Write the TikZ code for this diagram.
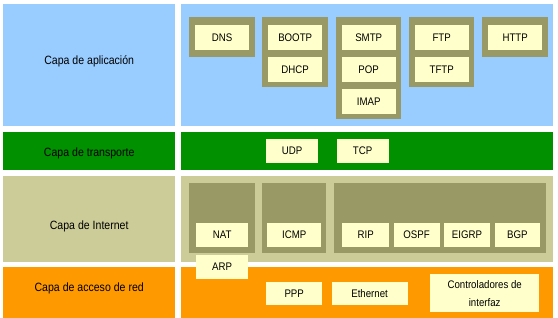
\documentclass[tikz,border=0pt]{standalone}
\usepackage{fontspec}
\setmainfont[FakeStretch=0.88]{Liberation Sans}
\usepackage{tikz}
\usetikzlibrary{positioning}
\definecolor{SkyBlue}{HTML}{99CCFF}
\definecolor{LayerGreen}{HTML}{009000}
\definecolor{Sand}{HTML}{CCCC99}
\definecolor{Olive}{HTML}{999966}
\definecolor{LayerOrange}{HTML}{FF9900}
\definecolor{Cream}{HTML}{FFFFCC}

\begin{document}
\begin{tikzpicture}[
  x=1pt,y=-1pt,
  band/.style={inner sep=0pt,anchor=north west},
  layer/.style={inner sep=0pt,font=\fontsize{12}{14}\selectfont},
  frame/.style={fill=Olive,inner sep=0pt,anchor=north west},
  proto/.style={fill=Cream,inner sep=0pt,minimum width=54pt,minimum height=25pt,align=center,font=\fontsize{11}{12}\selectfont}
]
\useasboundingbox[fill=white] (0,0) rectangle (558,318);

% layer bands, left for the name and right for the protocols
\node[band,fill=SkyBlue,minimum width=172pt,minimum height=122pt] (appL) at (3,4) {};
\node[band,fill=SkyBlue,minimum width=372pt,minimum height=122pt] (appR) at (181,4) {};
\node[band,fill=LayerGreen,minimum width=172pt,minimum height=38pt] (trL) at (3,132) {};
\node[band,fill=LayerGreen,minimum width=372pt,minimum height=38pt] (trR) at (181,132) {};
\node[band,fill=Sand,minimum width=172pt,minimum height=86pt] (inL) at (3,176) {};
\node[band,fill=Sand,minimum width=372pt,minimum height=86pt] (inR) at (181,176) {};
\node[band,fill=LayerOrange,minimum width=172pt,minimum height=51pt] (acL) at (3,267) {};
\node[band,fill=LayerOrange,minimum width=372pt,minimum height=51pt] (acR) at (181,267) {};

\node[layer] (appT) at ([yshift=4pt]appL.center) {Capa de aplicación};
\node[layer] (trT) at ([yshift=-2pt]trL.center) {Capa de transporte};
\node[layer] (inT) at ([yshift=-7pt]inL.center) {Capa de Internet};
\node[layer] (acT) at ([yshift=4pt]acL.center) {Capa de acceso de red};

% application layer
\node[frame,minimum width=66pt,minimum height=40pt] (dnsF) at (189,17) {};
\node[frame,minimum width=66pt,minimum height=70pt] (bootpF) at (262,17) {};
\node[frame,minimum width=65pt,minimum height=102pt] (smtpF) at (336,17) {};
\node[frame,minimum width=65pt,minimum height=70pt] (ftpF) at (409,17) {};
\node[frame,minimum width=66pt,minimum height=40pt] (httpF) at (482,17) {};
\node[proto,below=8pt of dnsF.north] (dns) {DNS};
\node[proto,below=8pt of bootpF.north] (bootp) {BOOTP};
\node[proto,below=6.5pt of bootp] (dhcp) {DHCP};
\node[proto,below=8pt of smtpF.north] (smtp) {SMTP};
\node[proto,below=6.5pt of smtp] (pop) {POP};
\node[proto,below=6.5pt of pop] (imap) {IMAP};
\node[proto,below=8pt of ftpF.north] (ftp) {FTP};
\node[proto,below=6.5pt of ftp] (tftp) {TFTP};
\node[proto,below=8pt of httpF.north] (http) {HTTP};

% transport layer
\node[proto,anchor=north west,minimum width=52pt,minimum height=24pt] (udp) at (266,139) {UDP};
\node[proto,right=18pt of udp,minimum width=52pt,minimum height=24pt] (tcp) {TCP};

% internet layer
\node[frame,minimum width=66pt,minimum height=70pt] (natF) at (189,183) {};
\node[frame,minimum width=64pt,minimum height=70pt] (icmpF) at (262,183) {};
\node[frame,minimum width=212pt,minimum height=70pt] (routeF) at (334,183) {};
\node[proto,above=6pt of natF.south,minimum width=52pt,minimum height=24pt] (nat) {NAT};
\node[proto,below=7pt of nat,minimum width=52pt,minimum height=24pt] (arp) {ARP};
\node[proto,above=6pt of icmpF.south,minimum width=54pt,minimum height=24pt] (icmp) {ICMP};
\node[proto,anchor=south west,minimum width=47pt,minimum height=24pt] (rip) at ([xshift=8pt,yshift=6pt]routeF.south west) {RIP};
\node[proto,right=4pt of rip,minimum width=46pt,minimum height=24pt] (ospf) {OSPF};
\node[proto,right=4pt of ospf,minimum width=46pt,minimum height=24pt] (eigrp) {EIGRP};
\node[proto,right=4.5pt of eigrp,minimum width=45pt,minimum height=24pt] (bgp) {BGP};

% network access layer
\node[proto,anchor=north west,minimum width=56pt,minimum height=23pt] (ppp) at (266,282) {PPP};
\node[proto,right=9pt of ppp,minimum width=76pt,minimum height=23pt] (eth) {Ethernet};
\node[proto,anchor=north west,minimum width=109pt,minimum height=38pt,font=\fontsize{11}{18}\selectfont] (ctrl) at (430,274) {Controladores de\\interfaz};
\end{tikzpicture}
\end{document}
